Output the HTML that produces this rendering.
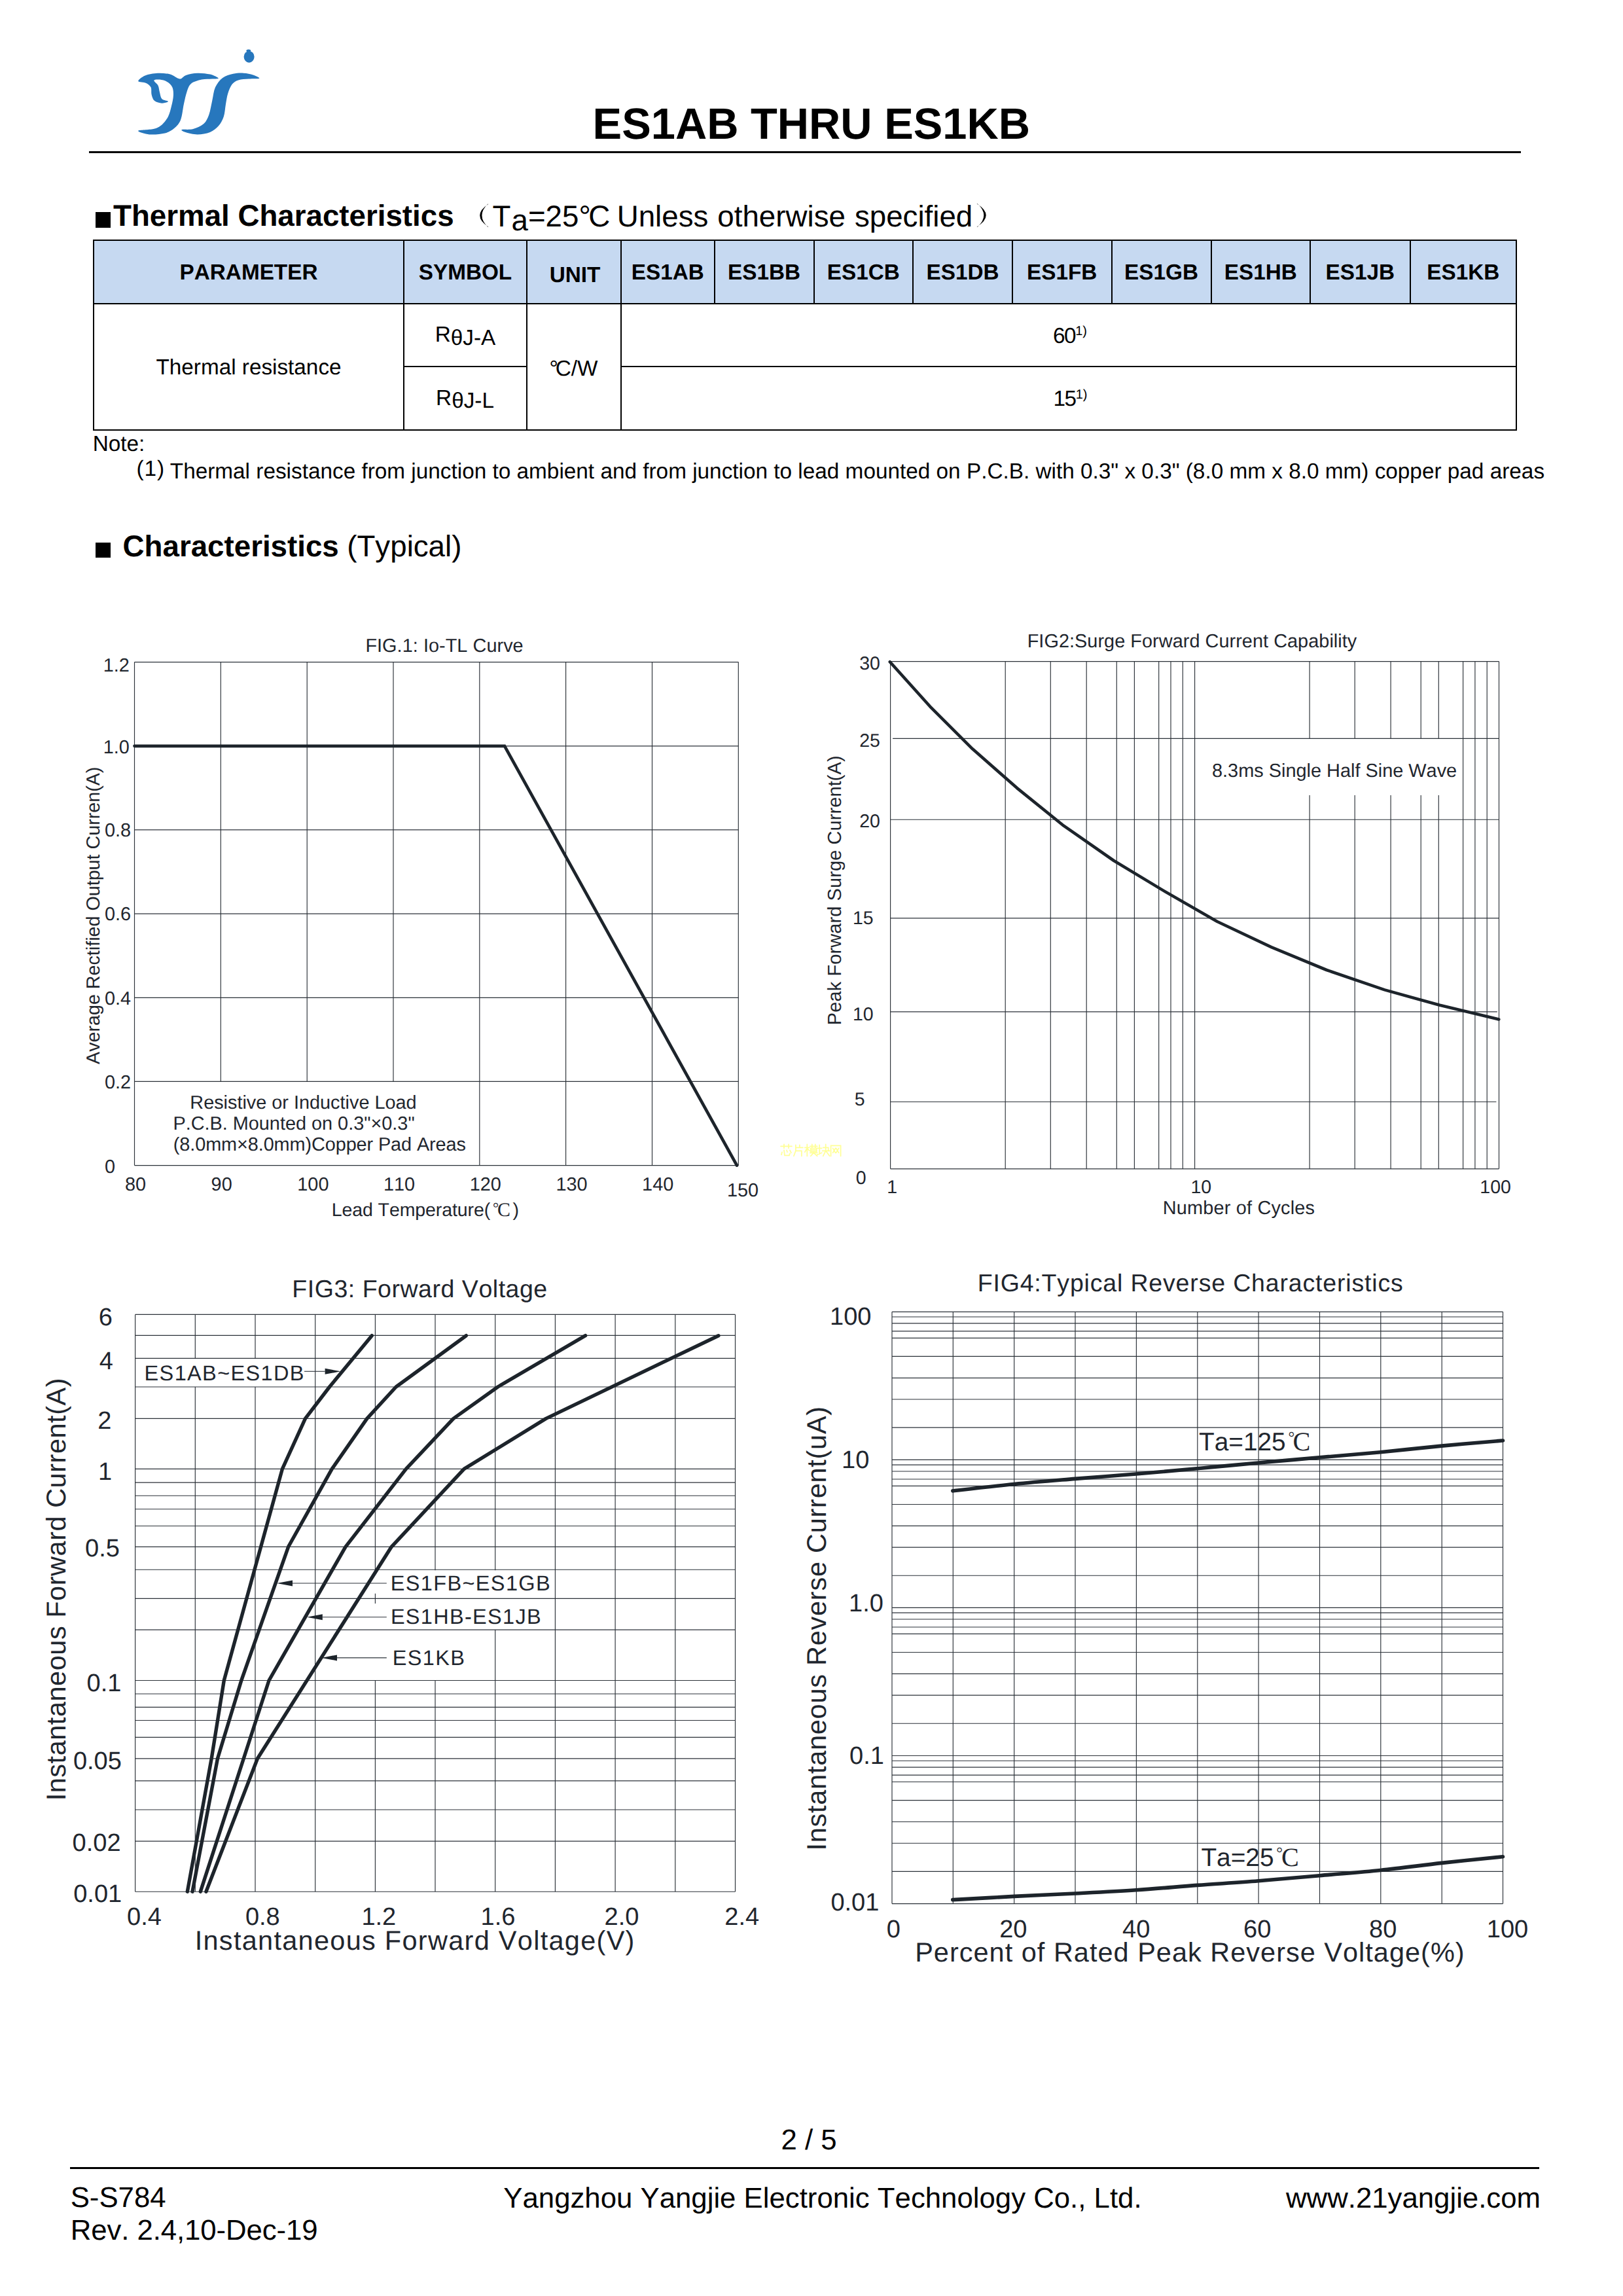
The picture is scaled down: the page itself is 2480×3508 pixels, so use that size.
<!DOCTYPE html>
<html lang="en">
<head>
<meta charset="utf-8">
<title>ES1AB THRU ES1KB - Datasheet page 2</title>
<style>
html,body{margin:0;padding:0;background:#fff;}
body{width:2480px;height:3508px;position:relative;overflow:hidden;font-family:"Liberation Sans",sans-serif;color:#000;font-kerning:none;font-variant-ligatures:none;text-rendering:geometricPrecision;}
.t{position:absolute;white-space:nowrap;line-height:1em;}
.hr{position:absolute;background:#000;}
.cell{position:absolute;box-sizing:border-box;display:flex;align-items:center;justify-content:center;white-space:nowrap;font-size:33.3px;line-height:1em;}
.th{font-weight:bold;background:#c6d9f1;}
.ln{position:absolute;background:#000;}
svg{position:absolute;left:0;top:0;}
svg text{font-family:"Liberation Sans",sans-serif;font-kerning:none;font-variant-ligatures:none;text-rendering:geometricPrecision;}
sub.s{font-size:0.8em;vertical-align:baseline;position:relative;top:0.12em;}
</style>
</head>
<body>

<svg width="2480" height="3508" viewBox="0 0 2480 3508" aria-label="logo and charts">
<g fill="#2777bd"><path d="M211.2,124.0C211.0,122.1 216.7,117.4 221.7,115.4C226.6,113.3 234.5,112.0 240.9,111.7C247.3,111.4 254.5,112.1 260.1,113.6C265.7,115.1 270.5,120.3 274.5,120.5C278.5,120.7 279.6,116.4 284.1,114.9C288.7,113.4 295.6,111.9 301.8,111.7C307.9,111.5 315.6,112.3 321.0,113.6C326.3,114.9 333.3,118.5 333.8,119.7C334.3,120.8 328.5,120.2 324.2,120.5C319.9,120.8 313.5,120.4 308.2,121.6C302.8,122.8 295.9,124.7 292.1,127.7C288.4,130.7 287.6,134.5 285.7,139.7C283.9,144.9 282.5,151.7 280.9,158.9C279.3,166.1 278.5,176.8 276.1,183.0C273.7,189.1 270.5,192.4 266.5,195.8C262.5,199.2 258.5,201.9 252.1,203.5C245.7,205.1 234.9,206.0 228.1,205.4C221.3,204.8 210.2,201.2 211.2,199.8C212.3,198.4 228.5,198.6 234.5,197.1C240.5,195.5 243.5,193.8 247.3,190.7C251.0,187.5 254.4,182.9 256.9,178.2C259.4,173.4 260.7,167.5 262.0,162.1C263.4,156.8 264.7,150.9 264.9,146.1C265.1,141.3 264.9,136.8 263.3,133.3C261.7,129.8 258.5,126.9 255.3,125.0C252.1,123.0 247.4,122.0 244.1,121.6C240.7,121.3 235.7,121.3 235.3,122.9C234.9,124.4 240.2,127.8 241.7,130.9C243.1,134.0 243.1,138.0 244.1,141.3C245.0,144.7 245.2,148.7 247.3,150.9C249.4,153.2 256.9,153.8 256.9,154.9C256.9,156.1 250.8,157.8 247.3,157.7C243.8,157.5 238.7,156.3 236.1,154.1C233.5,151.9 232.5,148.0 231.6,144.5C230.7,141.0 231.9,136.2 230.5,133.3C229.1,130.4 226.5,128.4 223.3,126.9C220.1,125.3 211.5,125.9 211.2,124.0Z"/><path d="M277.7,198.2C279.6,197.3 289.7,198.6 295.3,197.1C301.0,195.5 307.4,192.7 311.4,189.1C315.4,185.4 317.2,180.8 319.4,175.0C321.5,169.1 322.6,161.1 324.2,154.1C325.8,147.2 326.3,139.2 329.0,133.3C331.7,127.4 335.7,122.3 340.2,118.9C344.7,115.5 350.9,114.0 356.2,112.8C361.6,111.6 367.2,111.4 372.2,111.7C377.3,111.9 382.7,113.1 386.7,114.4C390.7,115.7 397.3,118.7 396.3,119.7C395.2,120.7 385.6,120.0 380.3,120.5C374.9,120.9 368.5,121.0 364.2,122.4C360.0,123.8 357.3,125.4 354.6,128.8C352.0,132.2 349.8,137.9 348.2,142.9C346.6,147.9 346.1,153.1 345.0,158.9C343.9,164.8 343.7,172.6 341.8,178.2C339.9,183.8 337.3,188.6 333.8,192.6C330.3,196.5 326.3,199.7 321.0,201.9C315.6,204.0 307.9,205.3 301.8,205.4C295.6,205.5 288.1,203.4 284.1,202.2C280.1,201.0 275.9,199.0 277.7,198.2Z"/>
<ellipse cx="380.6" cy="86.8" rx="8" ry="8.9"/><ellipse cx="379.8" cy="77.6" rx="3.4" ry="2"/></g>
<path d="M746.3,311.7Q720,329.2 746.3,346.7L745.3,346.7Q727.5,329.2 745.3,311.7Z" fill="#000"/>
<path d="M1492.6,311.3Q1520.8,329 1492.6,346.7L1493.6,346.7Q1513,329 1493.6,311.3Z" fill="#000"/>
<g stroke="#ffff96" stroke-width="1.7" fill="none" stroke-linecap="round">
<path transform="translate(1192.0,1748.3)" d="M1,3H18M6,0V6M13,0V6M3,12L2,16M6,9L7,17H14L15,14M10,9L11,12M15,9L17,13"/>
<path transform="translate(1210.9,1748.3)" d="M5,1V10L2,18M5,5H16M11,1V5M5,10H14V18"/>
<path transform="translate(1229.8,1748.3)" d="M0,5H7M3.5,0V18M3.5,6L0,12M3.5,6L7,10M8,3H19M11,0V5M16,0V5M9,6H18V11H9ZM9,8.5H18M8,13H19M13.5,11V13L9,18M13.5,13L19,18"/>
<path transform="translate(1248.7,1748.3)" d="M0,6H7M3.5,1V15M0,16L7,13M9,5H17V10M8,10H19M13,0V10L9,18M13,10L19,18"/>
<path transform="translate(1267.6,1748.3)" d="M2,18V2H17V18M5,6L9,13M9,6L5,13M10,6L14,13M14,6L10,13"/>
</g>
<g id="fig1" fill="#1f262e">
<path d="M205.5,1011.6V1780.6M337.3,1011.6V1652.4M469.2,1011.6V1652.4M601.0,1011.6V1652.4M732.8,1011.6V1780.6M864.6,1011.6V1780.6M996.5,1011.6V1780.6M1128.3,1011.6V1780.6M205.5,1011.6H1128.3M205.5,1139.8H1128.3M205.5,1267.9H1128.3M205.5,1396.1H1128.3M205.5,1524.3H1128.3M205.5,1652.4H1128.3M205.5,1780.6H1128.3" stroke="#2b3138" stroke-width="1.15" fill="none"/>
<path d="M205.5,1139.8L771,1139.8L1126,1780.6" stroke="#1d242b" stroke-width="4.7" fill="none" stroke-linejoin="miter" stroke-linecap="round"/>
<text x="558.4" y="996.4" font-size="28.85" letter-spacing="0.05">FIG.1: Io-TL Curve</text>
<text x="157.7" y="1025.8" font-size="28.85">1.2</text>
<text x="157.7" y="1150.6" font-size="28.85">1.0</text>
<text x="159.9" y="1278.3" font-size="28.85">0.8</text>
<text x="159.9" y="1406.4" font-size="28.85">0.6</text>
<text x="159.9" y="1534.5" font-size="28.85">0.4</text>
<text x="159.9" y="1662.6" font-size="28.85">0.2</text>
<text x="159.9" y="1791.6" font-size="28.85">0</text>
<text x="190.9" y="1819.3" font-size="28.85">80</text>
<text x="322.6" y="1819.3" font-size="28.85">90</text>
<text x="454.3" y="1819.3" font-size="28.85">100</text>
<text x="586.0" y="1819.3" font-size="28.85">110</text>
<text x="717.7" y="1819.3" font-size="28.85">120</text>
<text x="849.4" y="1819.3" font-size="28.85">130</text>
<text x="981.1" y="1819.3" font-size="28.85">140</text>
<text x="1111.0" y="1827.8" font-size="28.85">150</text>
<text x="506.8" y="1857.9" font-size="28.5" letter-spacing="-0.1">Lead Temperature(</text>
<text x="753.1" y="1852.5" font-size="22.8" style="font-family:&quot;Liberation Serif&quot;,serif">°</text><text x="759.9" y="1858.1" font-size="29.9" style="font-family:&quot;Liberation Serif&quot;,serif">C</text>
<text x="783.6" y="1857.9" font-size="28.5">)</text>
<text transform="translate(152.0,1626.0) rotate(-90)" font-size="28.7">Average Rectified Output Curren(A)</text>
<text x="290.3" y="1694.3" font-size="28.85">Resistive or Inductive Load</text>
<text x="264.4" y="1726.0" font-size="28.85">P.C.B. Mounted on 0.3"×0.3"</text>
<text x="264.8" y="1757.5" font-size="28.85" letter-spacing="-0.09">(8.0mm×8.0mm)Copper Pad Areas</text>
</g>
<g id="fig2" fill="#1f262e">
<path d="M1360.6,1010.6V1785.8M1536.2,1010.6V1785.8M1605.3,1010.6V1785.8M1660.2,1010.6V1785.8M1706.3,1010.6V1785.8M1733.4,1010.6V1785.8M1770.7,1010.6V1785.8M1789.0,1010.6V1785.8M1807.3,1010.6V1785.8M1825.6,1010.6V1785.8M2001.1,1010.6V1128.4M2001.1,1214.9V1785.8M2070.2,1010.6V1128.4M2070.2,1214.9V1785.8M2125.1,1010.6V1128.4M2125.1,1214.9V1785.8M2171.2,1010.6V1128.4M2171.2,1214.9V1785.8M2198.3,1010.6V1128.4M2198.3,1214.9V1785.8M2235.6,1010.6V1785.8M2253.9,1010.6V1785.8M2272.2,1010.6V1785.8M2290.5,1010.6V1785.8M1360.6,1010.6H2290.4M1364.1,1128.4H2290.4M1360.6,1252.2H2290.4M1360.6,1402.9H2290.4M1360.6,1545.9H2287.9M1360.6,1683.5H2286.4M1360.6,1785.8H2290.4" stroke="#2b3138" stroke-width="1.15" fill="none"/>
<path d="M1359.8,1011.2L1421.0,1079.3L1486.1,1144.3L1554.1,1204.1L1623.6,1260.3L1702.0,1315.0L1778.9,1361.4L1859.9,1408.0L1942.7,1447.1L2027.0,1482.0L2115.8,1512.4L2200.1,1535.8L2290.3,1557.4" stroke="#1d242b" stroke-width="4.6" fill="none" stroke-linejoin="round" stroke-linecap="round"/>
<text x="1569.7" y="989.2" font-size="28.85" letter-spacing="0.05">FIG2:Surge Forward Current Capability</text>
<text x="1313.2" y="1022.7" font-size="28.5">30</text>
<text x="1313.2" y="1141.3" font-size="28.5">25</text>
<text x="1313.2" y="1264.0" font-size="28.5">20</text>
<text x="1303.0" y="1412.4" font-size="28.5">15</text>
<text x="1303.0" y="1558.8" font-size="28.5">10</text>
<text x="1305.7" y="1688.9" font-size="28.5">5</text>
<text x="1307.8" y="1808.9" font-size="28.5">0</text>
<text x="1355.2" y="1823.1" font-size="28.5">1</text>
<text x="1819.5" y="1823.0" font-size="28.5">10</text>
<text x="2261.3" y="1823.0" font-size="28.5">100</text>
<text x="1776.8" y="1854.6" font-size="28.85" letter-spacing="0.2">Number of Cycles</text>
<text transform="translate(1284.5,1566.2) rotate(-90)" font-size="29" letter-spacing="0.09">Peak Forward Surge Current(A)</text>
<text x="1852.0" y="1187.4" font-size="28.9">8.3ms Single Half Sine Wave</text>
</g>
<g id="fig3" fill="#1f262e">
<path d="M206.6,2008.4V2890.2M298.3,2008.4V2075.3M298.3,2119.0V2890.2M390.0,2008.4V2075.3M390.0,2119.0V2890.2M481.7,2008.4V2890.2M573.4,2008.4V2399.3M573.4,2434.7V2450.0M573.4,2567.5V2890.2M665.0,2008.4V2399.3M665.0,2567.5V2890.2M756.7,2008.4V2399.3M756.7,2490.1V2890.2M848.4,2008.4V2890.2M940.1,2008.4V2890.2M1031.8,2008.4V2890.2M1123.5,2008.4V2890.2M206.6,2008.4H1123.5M206.6,2040.3H1123.5M206.6,2075.3H1123.5M206.6,2119.0H1123.5M206.6,2167.4H1123.5M206.6,2244.4H1123.5M206.6,2265.1H1123.5M206.6,2285.2H1123.5M206.6,2305.7H1123.5M206.6,2331.5H1123.5M206.6,2363.3H1123.5M206.6,2398.2H1123.5M206.6,2442.3H1123.5M206.6,2490.1H1123.5M206.6,2567.5H1123.5M206.6,2588.0H1123.5M206.6,2608.4H1123.5M206.6,2628.5H1123.5M206.6,2654.4H1123.5M206.6,2686.8H1123.5M206.6,2720.9H1123.5M206.6,2765.0H1123.5M206.6,2813.1H1123.5M206.6,2890.2H1123.5" stroke="#2b3138" stroke-width="1.15" fill="none"/>
<path d="M286.3,2890.2L323.2,2686.8L342.3,2567.5L431.4,2244.4L466.5,2167.4L503.5,2119.0L568.2,2040.7" stroke="#1d242b" stroke-width="5.4" fill="none" stroke-linejoin="round" stroke-linecap="round"/>
<path d="M294.0,2890.2L332.5,2686.8L368.8,2567.5L440.6,2363.3L507.2,2244.4L560.8,2167.4L605.1,2119.0L712.3,2040.7" stroke="#1d242b" stroke-width="5.4" fill="none" stroke-linejoin="round" stroke-linecap="round"/>
<path d="M306.3,2890.2L411.0,2567.5L528.0,2363.3L620.4,2244.4L692.9,2167.4L760.7,2119.0L894.5,2040.7" stroke="#1d242b" stroke-width="5.4" fill="none" stroke-linejoin="round" stroke-linecap="round"/>
<path d="M314.9,2890.2L393.5,2686.8L598.2,2363.3L709.1,2244.4L834.3,2167.4L1097.9,2040.7" stroke="#1d242b" stroke-width="5.4" fill="none" stroke-linejoin="round" stroke-linecap="round"/>
<path d="M465.0,2095.3L496.6,2095.3" stroke="#2b3138" stroke-width="1.1" fill="none"/><path d="M520.6,2095.3L496.6,2090.8L496.6,2099.8Z" fill="#1d242b"/>
<path d="M590.8,2419.0L447.0,2419.0" stroke="#2b3138" stroke-width="1.1" fill="none"/><path d="M423.0,2419.0L447.0,2414.5L447.0,2423.5Z" fill="#1d242b"/>
<path d="M590.8,2470.8L492.8,2470.8" stroke="#2b3138" stroke-width="1.1" fill="none"/><path d="M468.8,2470.8L492.8,2466.3L492.8,2475.3Z" fill="#1d242b"/>
<path d="M590.8,2532.9L515.0,2532.9" stroke="#2b3138" stroke-width="1.1" fill="none"/><path d="M491.0,2532.9L515.0,2528.4L515.0,2537.4Z" fill="#1d242b"/>
<text x="446.3" y="1982.0" font-size="37.5" letter-spacing="0.53">FIG3: Forward Voltage</text>
<text x="150.8" y="2024.6" font-size="38">6</text>
<text x="151.8" y="2091.5" font-size="38">4</text>
<text x="149.3" y="2183.3" font-size="38">2</text>
<text x="150.0" y="2260.6" font-size="38">1</text>
<text x="130.0" y="2377.8" font-size="38">0.5</text>
<text x="132.5" y="2583.9" font-size="38">0.1</text>
<text x="111.9" y="2702.8" font-size="38">0.05</text>
<text x="110.6" y="2828.2" font-size="38">0.02</text>
<text x="112.2" y="2906.3" font-size="38">0.01</text>
<text x="194.1" y="2940.5" font-size="38">0.4</text>
<text x="374.9" y="2940.5" font-size="38">0.8</text>
<text x="552.4" y="2940.5" font-size="38">1.2</text>
<text x="734.6" y="2940.5" font-size="38">1.6</text>
<text x="923.5" y="2940.5" font-size="38">2.0</text>
<text x="1107.3" y="2940.5" font-size="38">2.4</text>
<text x="297.7" y="2978.7" font-size="41.5" letter-spacing="1.28">Instantaneous Forward Voltage(V)</text>
<text transform="translate(99.7,2751.3) rotate(-90)" font-size="41.5" letter-spacing="0.52">Instantaneous Forward Current(A)</text>
<text x="220.6" y="2108.7" font-size="32.5" letter-spacing="1.35">ES1AB~ES1DB</text>
<text x="596.8" y="2429.6" font-size="32.5" letter-spacing="1.35">ES1FB~ES1GB</text>
<text x="596.9" y="2481.3" font-size="32.5" letter-spacing="1.3">ES1HB-ES1JB</text>
<text x="599.8" y="2544.2" font-size="32.5" letter-spacing="1.35">ES1KB</text>
</g>
<g id="fig4" fill="#1f262e">
<path d="M1363.0,2004.3V2908.6M1456.3,2004.3V2908.6M1549.7,2004.3V2908.6M1643.0,2004.3V2908.6M1736.4,2004.3V2908.6M1829.8,2004.3V2908.6M1923.1,2004.3V2908.6M2016.5,2004.3V2908.6M2109.8,2004.3V2908.6M2203.2,2004.3V2908.6M2296.5,2004.3V2908.6M1363.0,2004.3H2296.5M1363.0,2012.0H2296.5M1363.0,2021.9H2296.5M1363.0,2033.9H2296.5M1363.0,2044.3H2296.5M1363.0,2072.4H2296.5M1363.0,2105.3H2296.5M1363.0,2138.0H2296.5M1363.0,2181.1H2296.5M1363.0,2230.4H2296.5M1363.0,2238.1H2296.5M1363.0,2248.0H2296.5M1363.0,2260.0H2296.5M1363.0,2270.4H2296.5M1363.0,2298.5H2296.5M1363.0,2331.4H2296.5M1363.0,2364.1H2296.5M1363.0,2407.2H2296.5M1363.0,2456.4H2296.5M1363.0,2464.1H2296.5M1363.0,2474.0H2296.5M1363.0,2486.0H2296.5M1363.0,2496.4H2296.5M1363.0,2524.5H2296.5M1363.0,2557.4H2296.5M1363.0,2590.1H2296.5M1363.0,2633.2H2296.5M1363.0,2682.5H2296.5M1363.0,2690.2H2296.5M1363.0,2700.1H2296.5M1363.0,2712.1H2296.5M1363.0,2722.5H2296.5M1363.0,2750.6H2296.5M1363.0,2783.5H2296.5M1363.0,2816.2H2296.5M1363.0,2859.3H2296.5M1363.0,2908.6H2296.5" stroke="#2b3138" stroke-width="1.15" fill="none"/>
<path d="M1455.8,2277.9C1471.5,2276.1 1518.5,2270.6 1549.7,2267.5C1580.9,2264.4 1611.8,2262.0 1642.9,2259.4C1673.9,2256.8 1705.0,2254.6 1736.0,2252.0C1767.1,2249.4 1798.0,2246.7 1829.2,2243.8C1860.4,2241.0 1891.9,2237.8 1923.1,2235.0C1954.3,2232.1 1985.2,2229.6 2016.3,2226.8C2047.3,2224.1 2078.3,2221.7 2109.4,2218.7C2140.6,2215.7 2172.2,2212.1 2203.3,2209.1C2234.5,2206.1 2281.0,2202.3 2296.5,2201.0" stroke="#1d242b" stroke-width="5.6" fill="none" stroke-linecap="round"/>
<path d="M1455.8,2902.6C1471.5,2901.8 1518.5,2899.1 1549.7,2897.4C1580.9,2895.8 1611.8,2894.6 1642.9,2893.0C1673.9,2891.4 1705.0,2889.9 1736.0,2887.8C1767.1,2885.7 1798.0,2882.8 1829.2,2880.4C1860.4,2878.1 1891.9,2876.3 1923.1,2873.8C1954.3,2871.3 1985.2,2868.4 2016.3,2865.7C2047.3,2862.9 2078.3,2860.7 2109.4,2857.5C2140.6,2854.3 2172.2,2849.9 2203.3,2846.4C2234.5,2843.0 2281.0,2838.4 2296.5,2836.8" stroke="#1d242b" stroke-width="5.6" fill="none" stroke-linecap="round"/>
<text x="1493.7" y="1972.7" font-size="37.5" letter-spacing="0.83">FIG4:Typical Reverse Characteristics</text>
<text x="1268.0" y="2024.0" font-size="38">100</text>
<text x="1286.0" y="2243.2" font-size="38">10</text>
<text x="1297.0" y="2461.5" font-size="38">1.0</text>
<text x="1298.0" y="2695.2" font-size="38">0.1</text>
<text x="1269.4" y="2918.8" font-size="38">0.01</text>
<text x="1354.7" y="2960.0" font-size="38">0</text>
<text x="1527.2" y="2960.0" font-size="38">20</text>
<text x="1715.0" y="2960.0" font-size="38">40</text>
<text x="1900.0" y="2960.0" font-size="38">60</text>
<text x="2092.1" y="2960.0" font-size="38">80</text>
<text x="2271.8" y="2960.0" font-size="38">100</text>
<text x="1398.2" y="2997.0" font-size="41.5" letter-spacing="1.0">Percent of Rated Peak Reverse Voltage(%)</text>
<text transform="translate(1262.1,2827.6) rotate(-90)" font-size="41.5" letter-spacing="0.74">Instantaneous Reverse Current(uA)</text>
<text x="1832.0" y="2215.8" font-size="38.8">Ta=125</text>
<text x="1968.6" y="2203.8" font-size="24.4" style="font-family:&quot;Liberation Serif&quot;,serif">°</text><text x="1975.5" y="2215.9" font-size="40.3" style="font-family:&quot;Liberation Serif&quot;,serif">C</text>
<text x="1835.4" y="2850.9" font-size="38.8">Ta=25</text>
<text x="1950.3" y="2839.1" font-size="24.4" style="font-family:&quot;Liberation Serif&quot;,serif">°</text><text x="1958.0" y="2850.7" font-size="40.2" style="font-family:&quot;Liberation Serif&quot;,serif">C</text>
</g>
</svg>
<div class="t " style="left:905.6px;top:156.9px;font-size:66.83px;font-weight:bold;">ES1AB THRU ES1KB</div>
<div class="hr" style="left:136px;top:230.7px;width:2188px;height:3.2px"></div>
<div class="hr" style="left:145.7px;top:324px;width:23.5px;height:23.6px"></div>
<div class="t " style="left:173.0px;top:307.1px;font-size:45.7px;font-weight:bold;">Thermal Characteristics</div>
<div class="t " style="left:752.6px;top:307.5px;font-size:45.7px;word-spacing:1.3px;">T<span style="position:relative;top:6.3px;margin-left:1px">a</span>=25<span style="letter-spacing:-3.5px">°</span><span style="letter-spacing:-3.5px">C</span> Unless otherwise specified</div>
<div id="tbl" style="position:absolute;left:0;top:0">
<div style="position:absolute;left:143px;top:367px;width:2174px;height:96.5px;background:#c6d9f1"></div>
<div class="cell th" style="left:143px;top:367px;width:474px;height:96.5px;padding-top:3px;padding-left:0px">PARAMETER</div>
<div class="cell th" style="left:617px;top:367px;width:188px;height:96.5px;padding-top:3px;padding-left:0px">SYMBOL</div>
<div class="cell th" style="left:805px;top:367px;width:144px;height:96.5px;padding-top:11px;padding-left:3px">UNIT</div>
<div class="cell th" style="left:949px;top:367px;width:142.5px;height:96.5px;padding-top:3px;padding-left:0px">ES1AB</div>
<div class="cell th" style="left:1091.5px;top:367px;width:152.0px;height:96.5px;padding-top:3px;padding-left:0px">ES1BB</div>
<div class="cell th" style="left:1243.5px;top:367px;width:151.5px;height:96.5px;padding-top:3px;padding-left:0px">ES1CB</div>
<div class="cell th" style="left:1395px;top:367px;width:152px;height:96.5px;padding-top:3px;padding-left:0px">ES1DB</div>
<div class="cell th" style="left:1547px;top:367px;width:151.5px;height:96.5px;padding-top:3px;padding-left:0px">ES1FB</div>
<div class="cell th" style="left:1698.5px;top:367px;width:152.0px;height:96.5px;padding-top:3px;padding-left:0px">ES1GB</div>
<div class="cell th" style="left:1850.5px;top:367px;width:151.5px;height:96.5px;padding-top:3px;padding-left:0px">ES1HB</div>
<div class="cell th" style="left:2002px;top:367px;width:152.5px;height:96.5px;padding-top:3px;padding-left:0px">ES1JB</div>
<div class="cell th" style="left:2154.5px;top:367px;width:162.5px;height:96.5px;padding-top:3px;padding-left:0px">ES1KB</div>
<div class="cell" style="left:143px;top:463.5px;width:474px;height:193.5px"><span style="position:relative;left:0px;top:1px">Thermal resistance</span></div>
<div class="cell" style="left:617px;top:463.5px;width:188px;height:96.79999999999995px"><span style="position:relative;left:0px;top:0px">R<span style="position:relative;top:4.5px">θJ-A</span></span></div>
<div class="cell" style="left:617px;top:560.3px;width:188px;height:96.70000000000005px"><span style="position:relative;left:-0.5px;top:0px">R<span style="position:relative;top:4.5px">θJ-L</span></span></div>
<div class="cell" style="left:805px;top:463.5px;width:144px;height:193.5px"><span style="position:relative;left:-0.5px;top:3px"><span style="letter-spacing:-4px">°</span>C/W</span></div>
<div class="cell" style="left:949px;top:463.5px;width:1368px;height:96.79999999999995px"><span style="position:relative;left:2px;top:3.85px"><span style="letter-spacing:-1.5px">60</span><sup style="font-size:20px;position:relative;top:-11.5px;vertical-align:baseline;margin-left:0px">1)</sup></span></div>
<div class="cell" style="left:949px;top:560.3px;width:1368px;height:96.70000000000005px"><span style="position:relative;left:2.5px;top:4px"><span style="letter-spacing:-1.5px">15</span><sup style="font-size:20px;position:relative;top:-11.5px;vertical-align:baseline;margin-left:0px">1)</sup></span></div>
<div class="ln" style="left:142.0px;top:366.0px;width:2176.0px;height:2px"></div>
<div class="ln" style="left:142.0px;top:462.5px;width:2176.0px;height:2px"></div>
<div class="ln" style="left:142.0px;top:656.0px;width:2176.0px;height:2px"></div>
<div class="ln" style="left:616.0px;top:559.3px;width:190.0px;height:2px"></div>
<div class="ln" style="left:948.0px;top:559.3px;width:1370.0px;height:2px"></div>
<div class="ln" style="left:142.0px;top:366.0px;width:2px;height:292.0px"></div>
<div class="ln" style="left:616.0px;top:366.0px;width:2px;height:292.0px"></div>
<div class="ln" style="left:804.0px;top:366.0px;width:2px;height:292.0px"></div>
<div class="ln" style="left:948.0px;top:366.0px;width:2px;height:292.0px"></div>
<div class="ln" style="left:1090.5px;top:366.0px;width:2px;height:98.5px"></div>
<div class="ln" style="left:1242.5px;top:366.0px;width:2px;height:98.5px"></div>
<div class="ln" style="left:1394.0px;top:366.0px;width:2px;height:98.5px"></div>
<div class="ln" style="left:1546.0px;top:366.0px;width:2px;height:98.5px"></div>
<div class="ln" style="left:1697.5px;top:366.0px;width:2px;height:98.5px"></div>
<div class="ln" style="left:1849.5px;top:366.0px;width:2px;height:98.5px"></div>
<div class="ln" style="left:2001.0px;top:366.0px;width:2px;height:98.5px"></div>
<div class="ln" style="left:2153.5px;top:366.0px;width:2px;height:98.5px"></div>
<div class="ln" style="left:2316.0px;top:366.0px;width:2px;height:292.0px"></div>
</div>
<div class="t " style="left:141.7px;top:662.0px;font-size:33.33px;">Note:</div>
<div class="t " style="left:208.6px;top:700.0px;font-size:33.33px;letter-spacing:0.9px;">(1)</div>
<div class="t " style="left:259.8px;top:704.3px;font-size:33.33px;">Thermal resistance from junction to ambient and from junction to lead mounted on P.C.B. with 0.3" x 0.3" (8.0 mm x 8.0 mm) copper pad areas</div>
<div class="hr" style="left:146px;top:829px;width:23px;height:23px"></div>
<div class="t " style="left:187.6px;top:811.8px;font-size:45.7px;font-weight:bold;">Characteristics<span style="font-weight:normal;margin-left:12.5px">(Typical)</span></div>
<div class="t " style="left:1236.0px;top:3248.0px;font-size:43.75px;transform:translateX(-50%);">2 / 5</div>
<div class="hr" style="left:107px;top:3311px;width:2245px;height:3.2px"></div>
<div class="t " style="left:107.7px;top:3335.6px;font-size:43.75px;">S-S784</div>
<div class="t " style="left:107.7px;top:3385.5px;font-size:43.75px;letter-spacing:-0.08px;">Rev. 2.4,10-Dec-19</div>
<div class="t " style="left:769.3px;top:3337.4px;font-size:43.75px;">Yangzhou Yangjie Electronic Technology Co., Ltd.</div>
<div class="t " style="left:2354.0px;top:3337.4px;font-size:43.75px;transform:translateX(-100%);">www.21yangjie.com</div>
</body>
</html>
